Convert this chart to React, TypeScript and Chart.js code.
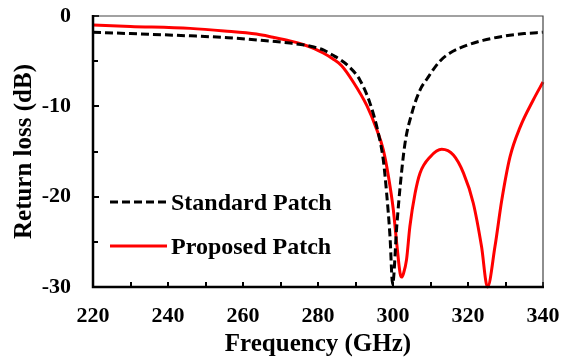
import React, { useEffect, useRef } from "react";
import { Chart, registerables } from "chart.js";

Chart.register(...registerables);

const seriesNames = ["Standard Patch", "Proposed Patch"];

const freqStandard = [
  220, 230, 246, 256, 264, 272.5, 278, 281.4, 284, 286, 288, 291.2, 293.9,
  296.1, 297.4, 298.3, 299.2, 299.9, 301, 301.9, 303.2, 305, 307.2, 309,
  312.5, 315.2, 320, 324, 330, 335, 340,
];
const lossStandard = [
  -1.8, -1.95, -2.2, -2.4, -2.66, -3.0, -3.35, -3.76, -4.35, -4.85, -5.5, -7.1,
  -9.7, -13.0, -15.9, -19.6, -24.4, -29.7, -23.3, -18.9, -14.1, -10.8, -8.2,
  -7.0, -5.0, -4.1, -3.2, -2.7, -2.2, -1.95, -1.8,
];

const freqProposed = [
  220, 230, 245.9, 255, 263.6, 268, 272.5, 276, 279, 281.4, 284, 286.3, 289.4,
  293, 295.6, 297.4, 298.8, 300.1, 301, 301.9, 302.3, 302.8, 303.6, 304.5,
  305.9, 307.2, 309.9, 313, 316.1, 318.8, 321.4, 323.6, 325.2, 327.2, 329,
  331.2, 333.9, 337.4, 340,
];
const lossProposed = [
  -1.0, -1.15, -1.37, -1.65, -2.0, -2.35, -2.75, -3.15, -3.6, -4.1, -4.75,
  -5.5, -7.3, -9.9, -12.5, -14.8, -17.8, -21.5, -25.2, -28.5, -28.9, -28.5,
  -27.0, -23.3, -19.6, -17.4, -15.6, -14.76, -15.4, -17.4, -20.7, -25.5, -30.0,
  -25.5, -20.4, -15.6, -12.3, -9.3, -7.3,
];

const xTickMin = 220;
const xTickMax = 340;
const xMajorStep = 20;
const xMinorStep = 10;
const yTickMin = -30;
const yTickMax = 0;
const yMajorStep = 10;
const yMinorStep = 5;

const FONT = "'Liberation Serif', 'Times New Roman', serif";

const framePlugin = {
  id: "frameLines",
  afterDraw(chart: any) {
    const { ctx, chartArea: a, scales } = chart;
    const xs = scales.x;
    const ys = scales.y;
    ctx.save();
    ctx.setLineDash([]);
    ctx.strokeStyle = "#000000";
    ctx.lineWidth = 2;
    for (let v = xTickMin; v <= xTickMax; v += xMinorStep) {
      const px = Math.round(xs.getPixelForValue(v));
      ctx.beginPath();
      ctx.moveTo(px, a.bottom);
      ctx.lineTo(px, a.bottom - 5);
      ctx.stroke();
    }
    for (let v = yTickMin; v <= yTickMax; v += yMinorStep) {
      const py = Math.round(ys.getPixelForValue(v));
      const len = Math.abs(v % yMajorStep) < 0.001 ? 6 : 5;
      ctx.beginPath();
      ctx.moveTo(a.left, py);
      ctx.lineTo(a.left + len, py);
      ctx.stroke();
    }
    ctx.strokeStyle = "#444444";
    ctx.lineWidth = 1.2;
    ctx.beginPath();
    ctx.moveTo(a.left, a.top);
    ctx.lineTo(a.right, a.top);
    ctx.lineTo(a.right, a.bottom);
    ctx.stroke();
    ctx.strokeStyle = "#000000";
    ctx.lineWidth = 2.5;
    ctx.beginPath();
    ctx.moveTo(a.left, a.top - 1);
    ctx.lineTo(a.left, a.bottom);
    ctx.lineTo(a.right + 1, a.bottom);
    ctx.stroke();

    const rows = [
      { y: a.top + 188, idx: 0 },
      { y: a.top + 232, idx: 1 },
    ];
    ctx.font = `bold 24px ${FONT}`;
    ctx.textBaseline = "middle";
    ctx.textAlign = "left";
    rows.forEach((r) => {
      const ds = chart.data.datasets[r.idx];
      ctx.save();
      ctx.strokeStyle = ds.borderColor;
      ctx.lineWidth = ds.borderWidth;
      ctx.setLineDash(ds.borderDash || []);
      ctx.beginPath();
      ctx.moveTo(a.left + 17, r.y - 2);
      ctx.lineTo(a.left + 74, r.y - 2);
      ctx.stroke();
      ctx.restore();
      ctx.fillStyle = "#000";
      ctx.fillText(ds.label, a.left + 78, r.y);
    });
    ctx.restore();
  },
};

function zeroPad(s: any) {
  s.paddingTop = 0;
  s.paddingBottom = 0;
  s.paddingLeft = 0;
  s.paddingRight = 0;
}

export default function App() {
  const ref = useRef<HTMLCanvasElement | null>(null);
  useEffect(() => {
    if (!ref.current) return;
    const chart = new Chart(ref.current, {
      type: "line",
      data: {
        datasets: [
          {
            label: seriesNames[0],
            data: freqStandard.map((f, i) => ({ x: f, y: lossStandard[i] })),
            borderColor: "#000000",
            borderWidth: 3,
            borderDash: [8, 4],
            pointRadius: 0,
            cubicInterpolationMode: "monotone",
            fill: false,
            clip: 6,
          },
          {
            label: seriesNames[1],
            data: freqProposed.map((f, i) => ({ x: f, y: lossProposed[i] })),
            borderColor: "#ff0000",
            borderWidth: 3,
            pointRadius: 0,
            cubicInterpolationMode: "monotone",
            fill: false,
            clip: 6,
          },
        ],
      },
      options: {
        responsive: false,
        animation: false,
        layout: { padding: { top: 16, right: 18, left: 0, bottom: 0 } },
        plugins: {
          legend: { display: false },
          tooltip: { enabled: false },
        },
        scales: {
          x: {
            type: "linear",
            min: xTickMin,
            max: xTickMax,
            grid: { drawOnChartArea: false, drawTicks: false },
            border: { display: false },
            ticks: {
              stepSize: xMajorStep,
              color: "#000",
              padding: 16,
              font: { family: FONT, size: 22, weight: "bold" },
            },
            title: {
              display: true,
              text: "Frequency (GHz)",
              color: "#000",
              padding: { top: 0, bottom: 0 },
              font: { family: FONT, size: 25, weight: "bold" },
            },
            afterFit: (s: any) => {
              s.height = 73;
              zeroPad(s);
            },
          },
          y: {
            type: "linear",
            min: yTickMin,
            max: yTickMax,
            grid: { drawOnChartArea: false, drawTicks: false },
            border: { display: false },
            ticks: {
              stepSize: yMajorStep,
              color: "#000",
              padding: 22,
              font: { family: FONT, size: 22, weight: "bold" },
            },
            title: {
              display: true,
              text: "Return loss (dB)",
              color: "#000",
              padding: { top: 10, bottom: 0 },
              font: { family: FONT, size: 25, weight: "bold" },
            },
            afterFit: (s: any) => {
              s.width = 93;
              zeroPad(s);
            },
          },
        },
      },
      plugins: [framePlugin],
    });
    return () => chart.destroy();
  }, []);
  return (
    <div style={{ position: "fixed", left: 0, top: 0, width: 561, height: 360, background: "#fff" }}>
      <canvas ref={ref} width={561} height={360} style={{ display: "block" }} />
    </div>
  );
}
